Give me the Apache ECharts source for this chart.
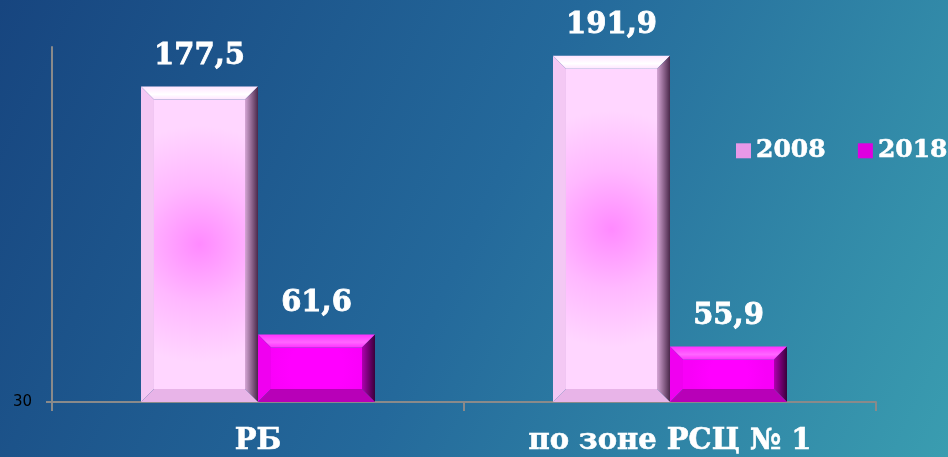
<!DOCTYPE html>
<html>
<head>
<meta charset="utf-8">
<script src="https://cdn.jsdelivr.net/npm/echarts@6/dist/echarts.min.js"></script>
<style>
  html, body { margin: 0; padding: 0; }
  #Map { width: 948px; height: 457px; }
</style>
</head>
<body>
<div id="Map"></div>
<script>
var categories = ['РБ', 'по зоне РСЦ № 1'];
var seriesNames = ['2008', '2018'];
var values2008 = [177.5, 191.9];
var values2018 = [61.6, 55.9];
var yMin = 30;
var yMax = 196;

var myChart = echarts.init(document.getElementById("Map"));

// цвета граней "объёмных" столбцов
var palettes = [
    { face: ['#ff8aff', '#ffb8ff', '#ffd6ff'], top: ['#ffffff', '#ffe4ff'], left: '#f4c8f4', right: ['#d6a6d6', '#4a284a'], bottom: '#e8b4e8' },
    { face: ['#ff00ff', '#ff00ff', '#f800f8'], top: ['#ff66ff', '#ff30ff'], left: '#f000f0', right: ['#b000b0', '#3a003a'], bottom: '#b800b8' }
];

function fmt(v) {
    return String(v).replace('.', ',');
}

function makeRender(idx) {
    return function (params, api) {
        var cat = api.value(0);
        var val = api.value(1);
        var top = api.coord([cat, val]);
        var base = api.coord([cat, yMin]);
        var band = api.size([1, 0])[0];
        var w = band * 0.284;
        var x0 = idx === 0 ? top[0] - w : top[0];
        var x1 = x0 + w;
        var y0 = top[1];
        var y1 = base[1];
        var b = 13;
        var p = palettes[idx];
        return {
            type: 'group',
            children: [
                { type: 'rect', shape: { x: x0 + b, y: y0 + b, width: w - 2 * b, height: y1 - y0 - 2 * b },
                  style: { fill: new echarts.graphic.RadialGradient(0.5, 0.5, 1.3, [
                      { offset: 0, color: p.face[0] }, { offset: 0.5, color: p.face[1] }, { offset: 1, color: p.face[2] }]) } },
                { type: 'polygon', shape: { points: [[x0, y0], [x1, y0], [x1 - b, y0 + b], [x0 + b, y0 + b]] },
                  style: { fill: new echarts.graphic.LinearGradient(0, 0, 0, 1, [
                      { offset: 0, color: p.top[1] }, { offset: 0.6, color: p.top[0] }, { offset: 1, color: p.top[1] }]) } },
                { type: 'polygon', shape: { points: [[x0, y0], [x0 + b, y0 + b], [x0 + b, y1 - b], [x0, y1]] },
                  style: { fill: p.left } },
                { type: 'polygon', shape: { points: [[x1, y0], [x1, y1], [x1 - b, y1 - b], [x1 - b, y0 + b]] },
                  style: { fill: new echarts.graphic.LinearGradient(0, 0, 1, 0, [
                      { offset: 0, color: p.right[0] }, { offset: 1, color: p.right[1] }]) } },
                { type: 'polygon', shape: { points: [[x0, y1], [x0 + b, y1 - b], [x1 - b, y1 - b], [x1, y1]] },
                  style: { fill: p.bottom } },
                { type: 'text', style: {
                    text: fmt(val), x: (x0 + x1) / 2, y: y0 - 16,
                    align: 'center', verticalAlign: 'bottom',
                    fill: '#ffffff', stroke: '#ffffff', lineWidth: 0.8,
                    font: 'bold 29px "DejaVu Serif"' } }
            ]
        };
    };
}

var option = {
    backgroundColor: new echarts.graphic.LinearGradient(0, 0, 1, 1, [
        { offset: 0, color: '#17457f' },
        { offset: 0.5, color: '#24699b' },
        { offset: 1, color: '#3a9db0' }
    ]),
    legend: {
        data: seriesNames,
        orient: 'horizontal',
        left: 736,
        top: 138,
        padding: 0,
        width: 220,
        itemWidth: 15,
        itemHeight: 15,
        itemGap: 32,
        icon: 'rect',
        textStyle: { color: '#ffffff', fontFamily: 'DejaVu Serif', fontWeight: 'bold', fontSize: 25,
                     textBorderColor: '#ffffff', textBorderWidth: 0.6 }
    },
    grid: {
        left: 52,
        right: 72,
        top: 47,
        bottom: 55,
        containLabel: false
    },
    xAxis: {
        type: 'category',
        data: categories,
        axisLine: { lineStyle: { color: '#8a8a8a', width: 2 } },
        axisTick: { show: true, length: 9, lineStyle: { color: '#8a8a8a', width: 2 } },
        axisLabel: { color: '#ffffff', fontFamily: 'DejaVu Serif', fontWeight: 'bold', fontSize: 29, margin: 25,
                     textBorderColor: '#ffffff', textBorderWidth: 0.6 }
    },
    yAxis: {
        type: 'value',
        min: yMin,
        max: yMax,
        interval: yMax - yMin,
        splitLine: { show: false },
        axisLine: { show: true, lineStyle: { color: '#8a8a8a', width: 2 } },
        axisTick: { show: true, length: 6, lineStyle: { color: '#8a8a8a', width: 2 } },
        axisLabel: { color: '#000000', fontFamily: 'DejaVu Sans', fontSize: 15, showMaxLabel: false, margin: 20 }
    },
    series: [
        {
            name: seriesNames[0],
            type: 'custom',
            itemStyle: { color: '#e898e8' },
            renderItem: makeRender(0),
            data: values2008.map(function (v, i) { return [i, v]; })
        },
        {
            name: seriesNames[1],
            type: 'custom',
            itemStyle: { color: '#e000e0' },
            renderItem: makeRender(1),
            data: values2018.map(function (v, i) { return [i, v]; })
        }
    ]
};
myChart.setOption(option);
</script>
</body>
</html>
